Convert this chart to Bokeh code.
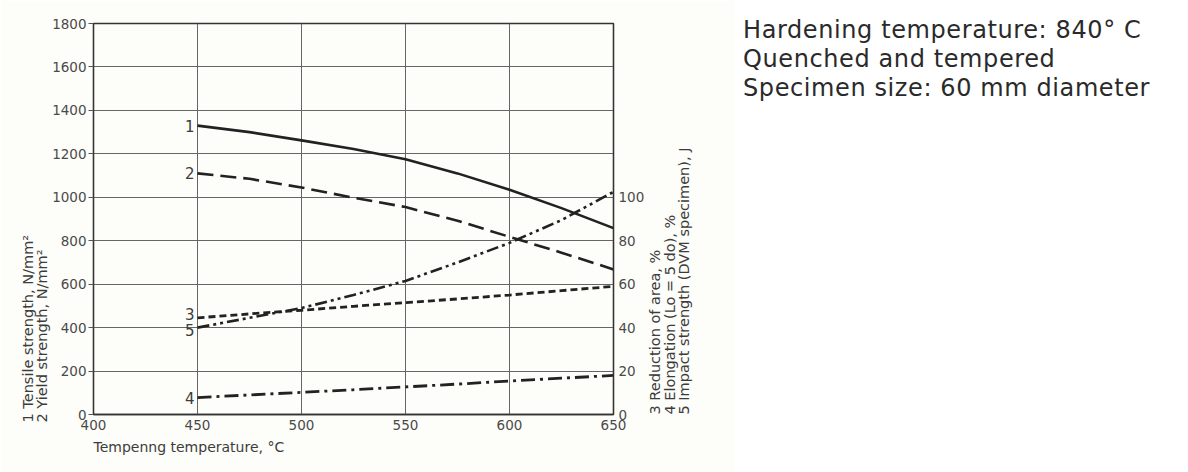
import math
from bokeh.plotting import figure
from bokeh.layouts import row
from bokeh.models import Range1d, LinearAxis, FixedTicker, ColumnDataSource, Div, Title
from bokeh.core.properties import value
from bokeh.embed import file_html
from bokeh.resources import INLINE

# ---- data ----
temps = [450, 475, 500, 525, 550, 575, 600, 625, 650]
tensile = [1330, 1300, 1262, 1222, 1175, 1110, 1035, 950, 858]      # N/mm2 (left)
yield_s = [1110, 1085, 1045, 998, 955, 892, 818, 745, 668]          # N/mm2 (left)
reduction = [44.5, 46.3, 48.0, 49.8, 51.5, 53.2, 55.0, 57.0, 59.0]  # % (right)
elongation = [7.8, 9.0, 10.2, 11.4, 12.7, 14.0, 15.4, 16.7, 18.0]   # % (right)
impact = [40.0, 44.5, 49.0, 55.0, 61.5, 70.0, 79.0, 89.5, 102.5]    # J (right)

x_ticks = [400, 450, 500, 550, 600, 650]
left_ticks = [0, 200, 400, 600, 800, 1000, 1200, 1400, 1600, 1800]
right_ticks = [0, 20, 40, 60, 80, 100]
grid_x = [450, 500, 550, 600]
grid_y = [200, 400, 600, 800, 1000, 1200, 1400, 1600]

curve_ids_left = ["1", "2"]
curve_ids_right = ["3", "5", "4"]

info_lines = ["Hardening temperature: 840\u00b0 C",
              "Quenched and tempered",
              "Specimen size: 60 mm diameter"]
left_titles = ["2 Yield strength, N/mm\u00b2", "1 Tensile strength, N/mm\u00b2"]  # inner -> outer
right_titles = ["3 Reduction of area, %", "4 Elongation (Lo = 5 do), %",
                "5 Impact strength (DVM specimen), J"]                           # inner -> outer
x_title = "Tempenng temperature, \u00b0C"

FONT = "DejaVu Sans"
INK = "#222222"
TXT = "#3c3c3c"
TICK_TXT = "#4a4a4a"
BG = "#fdfdf9"

AX_PROPS = LinearAxis.properties()


def set_align(ax, which):
    if "axis_label_align" in AX_PROPS:
        for v in which:
            try:
                ax.axis_label_align = v
                return
            except Exception:
                pass


def set_orient(ax, angle):
    if "axis_label_orientation" in AX_PROPS:
        try:
            ax.axis_label_orientation = angle
        except Exception:
            pass


def style_title(ax, standoff):
    ax.axis_label_text_font = FONT
    ax.axis_label_text_font_size = "14.5px"
    ax.axis_label_text_font_style = "normal"
    ax.axis_label_text_color = TXT
    ax.axis_label_standoff = standoff


def label_only_axis(ax):
    ax.ticker = FixedTicker(ticks=[])
    ax.axis_line_color = None
    ax.major_tick_line_color = None
    ax.minor_tick_line_color = None
    ax.major_tick_out = 0
    ax.major_tick_in = 0
    ax.minor_tick_out = 0
    ax.major_label_standoff = 0
    ax.major_label_text_font_size = "0px"


def side_title(text, size, standoff, offset):
    return Title(text=text, align="left", vertical_align="middle", offset=offset,
                 standoff=standoff, text_font=FONT, text_font_size=size,
                 text_font_style="normal", text_color=TXT)


p = figure(width=735, height=472, output_backend="svg", toolbar_location=None,
           x_range=Range1d(400, 650), y_range=Range1d(0, 1800),
           min_border_left=93, min_border_right=122, min_border_top=23,
           min_border_bottom=58)
p.background_fill_color = BG
p.border_fill_color = BG
p.outline_line_color = "#333333"
p.outline_line_width = 1.3
p.extra_y_ranges = {"right": Range1d(0, 180)}

# main axes
p.xaxis.ticker = FixedTicker(ticks=x_ticks)
p.yaxis.ticker = FixedTicker(ticks=left_ticks)
for ax in (p.xaxis[0], p.yaxis[0]):
    ax.axis_line_color = "#333333"
    ax.axis_line_width = 1.3
    ax.major_label_text_font = FONT
    ax.major_label_text_font_size = "13.5px"
    ax.major_label_text_color = TICK_TXT
    ax.minor_tick_line_color = None
    ax.major_tick_line_color = "#555555"
    ax.major_tick_in = 0
p.yaxis.major_tick_out = 5
p.yaxis.major_label_standoff = 2
p.xaxis.major_tick_out = 0
p.xaxis.major_label_standoff = 5

# x title (below the tick labels, left aligned)
p.add_layout(side_title(x_title, "14px", 10, 0), "below")

# left titles (inner first)
p.add_layout(side_title(left_titles[0], "14.5px", -2, -8), "left")
p.add_layout(side_title(left_titles[1], "14.5px", -6, -8), "left")

# right axis with ticks + titles
rax = LinearAxis(y_range_name="right", ticker=FixedTicker(ticks=right_ticks))
rax.axis_line_color = "#333333"
rax.axis_line_width = 1.3
rax.major_label_text_font = FONT
rax.major_label_text_font_size = "13.5px"
rax.major_label_text_color = TICK_TXT
rax.minor_tick_line_color = None
rax.major_tick_in = 0
rax.major_tick_out = 0
rax.major_label_standoff = 5
rax.axis_label = right_titles[0]
style_title(rax, 8)
p.add_layout(rax, "right")
right_axes = [rax]
for t in right_titles[1:]:
    a = LinearAxis(y_range_name="right", axis_label=t)
    label_only_axis(a)
    style_title(a, -5)
    p.add_layout(a, "right")
    right_axes.append(a)
for a in right_axes:
    set_orient(a, math.pi / 2)
    set_align(a, ["left", "start"])

# grid
p.xgrid.ticker = FixedTicker(ticks=grid_x)
p.ygrid.ticker = FixedTicker(ticks=grid_y)
p.xgrid.grid_line_color = "#666666"
p.ygrid.grid_line_color = "#666666"
p.xgrid.grid_line_width = 1
p.ygrid.grid_line_width = 1

# curves
p.line(temps, tensile, line_color=INK, line_width=2.6)
p.line(temps, yield_s, line_color=INK, line_width=2.6, line_dash="16 7")
p.line(temps, reduction, line_color=INK, line_width=2.8, line_dash="7 4", y_range_name="right")
p.line(temps, elongation, line_color=INK, line_width=2.8, line_dash="14 5 3 5", y_range_name="right")
p.line(temps, impact, line_color=INK, line_width=2.6, line_dash="12 4 3 4 3 4", y_range_name="right")

# curve numbers
src_l = ColumnDataSource(dict(x=[temps[0]] * 2, y=[tensile[0], yield_s[0]], t=curve_ids_left))
p.text(x="x", y="y", text="t", source=src_l, x_offset=-3, text_align="right",
       text_baseline="middle", text_font=value(FONT), text_font_size="15px", text_color=TXT)
src_r = ColumnDataSource(dict(x=[temps[0]] * 3, y=[reduction[0], impact[0], elongation[0]],
                              t=curve_ids_right, dy=[-4, 2, 0]))
p.text(x="x", y="y", text="t", source=src_r, x_offset=-3, y_offset="dy", text_align="right",
       text_baseline="middle", text_font=value(FONT), text_font_size="15px", text_color=TXT,
       y_range_name="right")

# info block
info = Div(text="<br>".join(info_lines), width=445, height=120, margin=(16, 0, 0, 8),
           styles={"font-family": FONT, "font-size": "24px", "line-height": "29px",
                   "letter-spacing": "0.6px", "color": "#2a2a2a", "white-space": "nowrap"})

layout = row(p, info)
open("out.html", "w").write(file_html(layout, INLINE))
